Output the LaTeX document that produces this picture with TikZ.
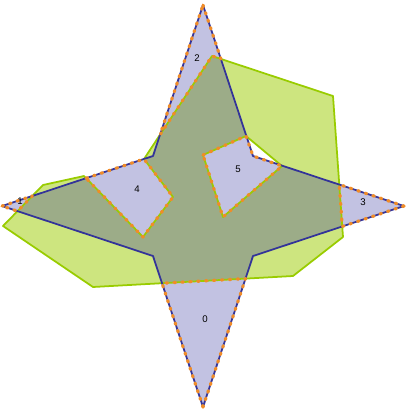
\documentclass[tikz,border=0pt]{standalone}
\usepackage{fontspec}
\setmainfont{Liberation Sans}
\definecolor{starblue}{RGB}{51,51,153}
\definecolor{clipgreen}{RGB}{153,204,0}
\definecolor{subjfill}{RGB}{194,194,226}
\definecolor{clipfill}{RGB}{205,229,127}
\definecolor{overlapfill}{RGB}{156,172,136}
\definecolor{difforange}{RGB}{240,140,40}

\begin{document}
\begin{tikzpicture}[x=0.02cm, y=-0.02cm,
    star edge/.style={draw=starblue, line width=1pt, line join=round},
    clip edge/.style={draw=clipgreen, line width=1pt, line join=round},
    piece/.style={draw=difforange, line width=1.8pt, dash pattern=on 0.9pt off 3.6pt, line cap=round, line join=round},
    tag/.style={font=\fontsize{5.5}{6}\selectfont, inner sep=0pt}]
  \useasboundingbox (0,0) rectangle (406,410);

  % Subject (star)
  \coordinate (s0) at (203,407);
  \coordinate (s1) at (153,256);
  \coordinate (s2) at (2,206);
  \coordinate (s3) at (153,156);
  \coordinate (s4) at (203,5);
  \coordinate (s5) at (253,156);
  \coordinate (s6) at (404,206);
  \coordinate (s7) at (253,256);

  % Clip polygon, outer loop
  \coordinate (g0) at (3,226);
  \coordinate (g1) at (43,185);
  \coordinate (g2) at (84,176);
  \coordinate (g3) at (143,237);
  \coordinate (g4) at (173,197);
  \coordinate (g5) at (144,159);
  \coordinate (g6) at (212,56);
  \coordinate (g7) at (333,96);
  \coordinate (g8) at (343,237);
  \coordinate (g9) at (293,276);
  \coordinate (g10) at (93,287);
  % Clip polygon, hole
  \coordinate (h0) at (203,155);
  \coordinate (h1) at (246,136);
  \coordinate (h2) at (282,166);
  \coordinate (h3) at (223,217);

  % Clip polygon fill
  \fill[clipfill, even odd rule] (g0) -- (g1) -- (g2) -- (g3) -- (g4) -- (g5) -- (g6) -- (g7) -- (g8) -- (g9) -- (g10) -- cycle
    (h0) -- (h1) -- (h2) -- (h3) -- cycle;

  % Star fill and overlap
  \fill[subjfill] (s0) -- (s1) -- (s2) -- (s3) -- (s4) -- (s5) -- (s6) -- (s7) -- cycle;
  \begin{scope}
    \clip (s0) -- (s1) -- (s2) -- (s3) -- (s4) -- (s5) -- (s6) -- (s7) -- cycle;
    \fill[overlapfill, even odd rule] (g0) -- (g1) -- (g2) -- (g3) -- (g4) -- (g5) -- (g6) -- (g7) -- (g8) -- (g9) -- (g10) -- cycle
      (h0) -- (h1) -- (h2) -- (h3) -- cycle;
  \end{scope}

  % Outlines
  \draw[clip edge] (g0) -- (g1) -- (g2) -- (g3) -- (g4) -- (g5) -- (g6) -- (g7) -- (g8) -- (g9) -- (g10) -- cycle
    (h0) -- (h1) -- (h2) -- (h3) -- cycle;
  \draw[star edge] (s0) -- (s1) -- (s2) -- (s3) -- (s4) -- (s5) -- (s6) -- (s7) -- cycle;

  % Crossing points
  \coordinate (a0) at (intersection of g9--g10 and s0--s1);
  \coordinate (b0) at (intersection of g9--g10 and s7--s0);
  \coordinate (a1) at (intersection of g0--g1 and s2--s3);
  \coordinate (b1) at (intersection of g0--g1 and s1--s2);
  \coordinate (a2) at (intersection of g6--g7 and s4--s5);
  \coordinate (b2) at (intersection of g5--g6 and s3--s4);
  \coordinate (a3) at (intersection of g7--g8 and s5--s6);
  \coordinate (b3) at (intersection of g7--g8 and s6--s7);
  \coordinate (a4) at (intersection of g2--g3 and s2--s3);

  % Difference pieces
  \draw[piece] (s0) -- (a0) -- (b0) -- cycle;
  \draw[piece] (s2) -- (a1) -- (b1) -- cycle;
  \draw[piece] (s4) -- (a2) -- (g6) -- (b2) -- cycle;
  \draw[piece] (s6) -- (b3) -- (a3) -- cycle;
  \draw[piece] (a4) -- (g5) -- (g4) -- (g3) -- cycle;
  \draw[piece] (h0) -- (h1) -- (s5) -- (h2) -- (h3) -- cycle;

  % Piece numbers
  \node[tag] (n0) at (205,319) {0};
  \node[tag] (n1) at (20,201) {1};
  \node[tag] (n2) at (197,58) {2};
  \node[tag] (n3) at (363,202) {3};
  \node[tag] (n4) at (137,189) {4};
  \node[tag] (n5) at (238,169) {5};
\end{tikzpicture}
\end{document}
